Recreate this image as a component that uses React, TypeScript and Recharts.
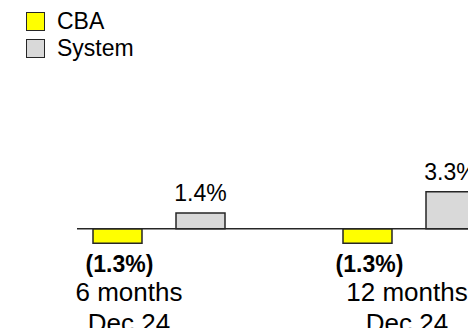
import React from "react";
import {
  BarChart,
  Bar,
  XAxis,
  YAxis,
  Legend,
  LabelList,
  ReferenceLine,
} from "recharts";

const periods = ["6 months", "12 months"];
const asOfDates = ["Dec 24", "Dec 24"];
const cbaChange = [-1.3, -1.3];
const systemChange = [1.4, 3.3];

const seriesInfo = [
  { key: "cba", name: "CBA", color: "#FFFF00" },
  { key: "system", name: "System", color: "#D9D9D9" },
];

const data = periods.map((period, i) => ({
  period,
  asOf: asOfDates[i],
  cba: cbaChange[i],
  system: systemChange[i],
}));

const FONT = "Arial, 'Liberation Sans', sans-serif";
const OUTLINE = "#262626";
// label centres sit a bit left of the bar pair in the original
const tickShift = [-30, -2];

function PeriodTick({ x, y, payload, index }: any) {
  const i = payload?.index ?? index ?? 0;
  const cx = Number(x) + (tickShift[i] ?? 0);
  return (
    <text
      x={cx}
      y={Number(y)}
      textAnchor="middle"
      fontSize={26}
      fontFamily={FONT}
      fill="#000"
    >
      <tspan x={cx} dy={42}>
        {payload.value}
      </tspan>
      <tspan x={cx} dy={31}>
        {asOfDates[i]}
      </tspan>
    </text>
  );
}

function ValueLabel(props: any) {
  const { x, y, width, height, value } = props;
  const h = Number(height);
  const top = Math.min(Number(y), Number(y) + h);
  const bottom = Math.max(Number(y), Number(y) + h);
  const cx = Number(x) + Number(width) / 2;
  const v = Number(value);
  if (v < 0) {
    return (
      <text
        x={cx + 2}
        y={bottom + 29}
        textAnchor="middle"
        fontSize={23}
        fontWeight="bold"
        fontFamily={FONT}
        fill="#000"
      >
        ({Math.abs(v).toFixed(1)}%)
      </text>
    );
  }
  return (
    <text
      x={cx}
      y={top - 12}
      textAnchor="middle"
      fontSize={23}
      fontFamily={FONT}
      fill="#000"
    >
      {v.toFixed(1)}%
    </text>
  );
}

function LegendBox() {
  return (
    <div
      style={{
        height: 60,
        paddingTop: 12,
        paddingLeft: 26,
        boxSizing: "border-box",
        fontFamily: FONT,
      }}
    >
      {seriesInfo.map((s) => (
        <div
          key={s.key}
          style={{
            display: "flex",
            alignItems: "center",
            height: 19,
            marginBottom: 8,
          }}
        >
          <div
            style={{
              width: 19,
              height: 19,
              boxSizing: "border-box",
              border: `1.5px solid ${OUTLINE}`,
              background: s.color,
            }}
          />
          <span
            style={{
              marginLeft: 12,
              fontSize: 23,
              lineHeight: "19px",
              color: "#000",
            }}
          >
            {s.name}
          </span>
        </div>
      ))}
    </div>
  );
}

export default function App() {
  return (
    <div
      style={{
        margin: -8,
        width: 476,
        height: 336,
        overflow: "hidden",
        position: "relative",
        background: "#fff",
      }}
    >
      <BarChart
        width={540}
        height={336}
        data={data}
        margin={{ top: 124, right: 6, bottom: 0, left: 77 }}
        barSize={49}
        barGap={34}
      >
        <Legend
          verticalAlign="top"
          align="left"
          layout="horizontal"
          wrapperStyle={{ top: 0, left: 0 }}
          content={() => <LegendBox />}
        />
        <XAxis
          dataKey="period"
          axisLine={false}
          tickLine={false}
          height={85}
          interval={0}
          padding={{ left: -43, right: 0 }}
          tick={<PeriodTick />}
        />
        <YAxis hide domain={[-2, 4]} />
        <ReferenceLine y={0} stroke={OUTLINE} strokeWidth={1.5} />
        {seriesInfo.map((s) => (
          <Bar
            key={s.key}
            dataKey={s.key}
            name={s.name}
            fill={s.color}
            stroke={OUTLINE}
            strokeWidth={1.5}
            isAnimationActive={false}
          >
            <LabelList dataKey={s.key} content={<ValueLabel />} />
          </Bar>
        ))}
      </BarChart>
    </div>
  );
}
